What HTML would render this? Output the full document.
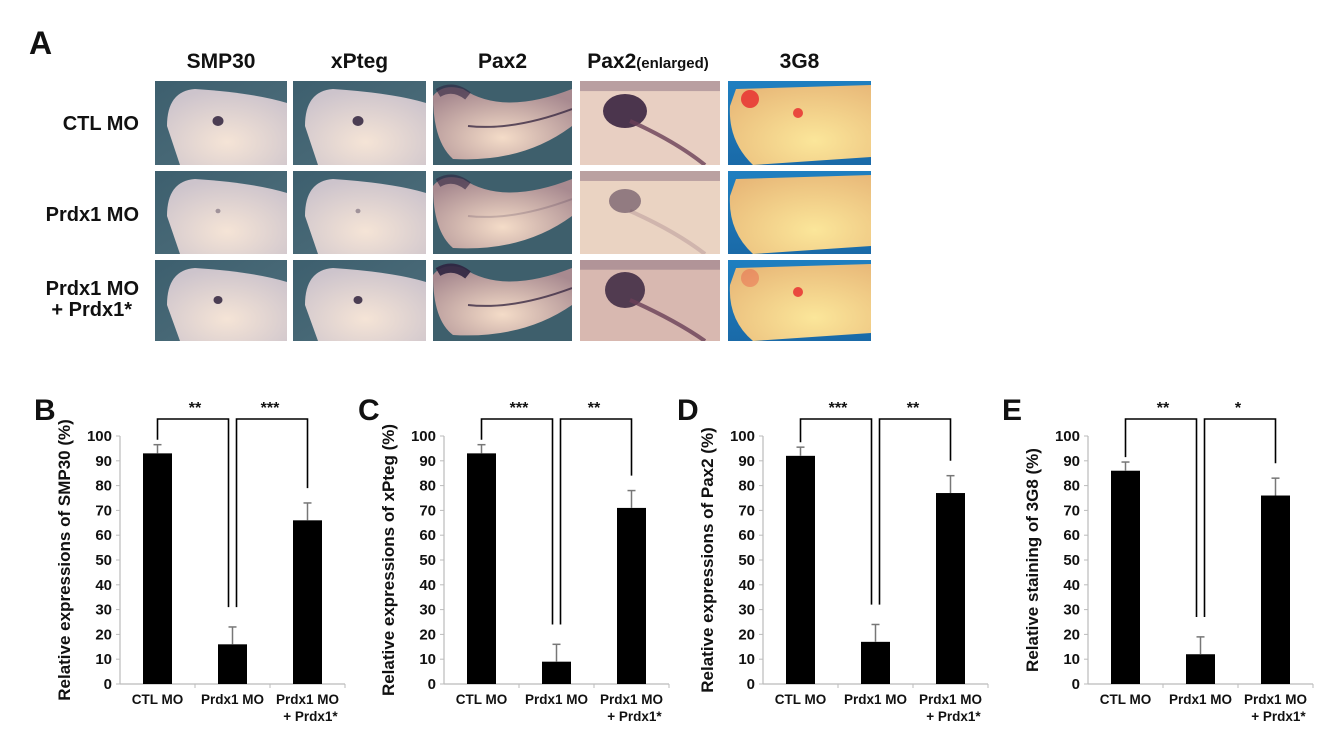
<!DOCTYPE html>
<html><head><meta charset="utf-8"><style>
body{margin:0;background:#fff;width:1340px;height:737px;overflow:hidden;font-family:"Liberation Sans",Arial,sans-serif}
svg{display:block}
text{font-family:"Liberation Sans",Arial,sans-serif;font-weight:bold;fill:#111}
</style></head><body>
<svg id="fig" width="1340" height="737" viewBox="0 0 1340 737">
<defs>
<linearGradient id="bgBlue" x1="0" y1="0" x2="1" y2="1"><stop offset="0" stop-color="#3d5f6e"/><stop offset="1" stop-color="#4f6f7c"/></linearGradient>
<radialGradient id="emb" cx="0.5" cy="0.7" r="0.7"><stop offset="0" stop-color="#f5e4d6"/><stop offset="1" stop-color="#cdc4cc"/></radialGradient>
<radialGradient id="embP" cx="0.5" cy="0.7" r="0.7"><stop offset="0" stop-color="#f4dcc8"/><stop offset="1" stop-color="#a88a90"/></radialGradient>
<radialGradient id="embO" cx="0.6" cy="0.7" r="0.8"><stop offset="0" stop-color="#fbe69a"/><stop offset="1" stop-color="#e8b878"/></radialGradient>
<linearGradient id="bgCyan" x1="0" y1="0" x2="0" y2="1"><stop offset="0" stop-color="#1f7fc0"/><stop offset="1" stop-color="#1a6aa8"/></linearGradient>
</defs>
<text x="29" y="54" font-size="32">A</text>
<g id="photos"></g>
<g id="charts"></g>
</svg>
<script>
const NS='http://www.w3.org/2000/svg';
function mk(tag,attrs,parent,txt){const e=document.createElementNS(NS,tag);for(const k in attrs)e.setAttribute(k,attrs[k]);if(txt!==undefined)e.textContent=txt;parent.appendChild(e);return e;}
// ---------- photo panel ----------
const colTitles=['SMP30','xPteg','Pax2','Pax2','3G8'];
const rowLabels=[['CTL MO'],['Prdx1 MO'],['Prdx1 MO','+ Prdx1*']];
const cols=[[155,287],[293,426],[433,572],[580,720],[728,871]];
const rows=[[81,165],[171,254],[260,341]];
const ph=document.getElementById('photos');
colTitles.forEach((t,i)=>{
  const cx=(cols[i][0]+cols[i][1])/2;
  const tt=mk('text',{x:cx,y:68,'font-size':21,'text-anchor':'middle'},ph);
  
  
  tt.textContent=t;
  if(i===3){tt.setAttribute('x',cx-2);mk('tspan',{'font-size':15},tt,'(enlarged)');}
});
const rowY=[[130],[221],[295,316]];
rowLabels.forEach((l,i)=>{
  l.forEach((s,j)=>{
    const t=mk('text',{x:j===1?132:139,y:rowY[i][j],'font-size':20,'text-anchor':'end'},ph,s);
    
    
  });
});
rows.forEach((r,ri)=>cols.forEach((c,ci)=>{
  const g=mk('g',{},ph);
  
  
  const x=c[0],y=r[0],w=c[1]-c[0],h=r[1]-r[0];
  const cp='cp'+ri+ci;const cl=mk('clipPath',{id:cp},g);mk('rect',{x,y,width:w,height:h},cl);
  const gg=mk('g',{'clip-path':'url(#'+cp+')'},g);
  if(ci<2){
    mk('rect',{x,y,width:w,height:h,fill:'url(#bgBlue)'},gg);
    mk('path',{d:`M${x+25},${y+h} L${x+12},${y+45} Q${x+12},${y+10} ${x+40},${y+8} Q${x+100},${y+12} ${x+w},${y+22} L${x+w},${y+h} Z`,fill:'url(#emb)'},gg);
    const dr=[5.5,2.5,4.5][ri];mk('ellipse',{cx:x+(ci?65:63),cy:y+40,rx:dr,ry:dr*0.9,fill:'#3a2c45',opacity:ri===1?0.4:0.9},gg);
  }else if(ci===2){
    mk('rect',{x,y,width:w,height:h,fill:'#3e5f6c'},gg);
    mk('path',{d:`M${x},${y+15} Q${x+10},${y+2} ${x+30},${y+8} Q${x+70},${y+35} ${x+w},${y+8} L${x+w},${y+45} Q${x+90},${y+h-2} ${x+20},${y+h-6} Q${x},${y+60} ${x},${y+15}Z`,fill:'url(#embP)'},gg);
    mk('path',{d:`M${x+5},${y+12} Q${x+20},${y+3} ${x+35},${y+15}`,stroke:'#2d2340','stroke-width':9,fill:'none',opacity:ri===2?0.9:0.6},gg);
    mk('path',{d:`M${x+35},${y+45} Q${x+80},${y+50} ${x+w},${y+28}`,stroke:'#3b2a44','stroke-width':2,fill:'none',opacity:ri===1?0.2:0.8},gg);
  }else if(ci===3){
    mk('rect',{x,y,width:w,height:h,fill:['#e8cfc2','#ead3c2','#d8b8b0'][ri]},gg);
    mk('rect',{x,y,width:w,height:h*0.12,fill:'#8a7080',opacity:0.5},gg);
    mk('ellipse',{cx:x+45,cy:y+30,rx:[22,16,20][ri],ry:[17,12,18][ri],fill:'#3a2440',opacity:[0.9,0.5,0.85][ri]},gg);
    mk('path',{d:`M${x+50},${y+40} Q${x+95},${y+60} ${x+125},${y+h}`,stroke:'#6a4058','stroke-width':4,fill:'none',opacity:ri===1?0.2:0.8},gg);
  }else{
    mk('rect',{x,y,width:w,height:h,fill:'url(#bgCyan)'},gg);
    mk('path',{d:`M${x+8},${y+8} L${x+w},${y+4} L${x+w},${y+h-8} L${x+25},${y+h} Q${x},${y+60} ${x+2},${y+25}Z`,fill:'url(#embO)'},gg);
    if(ri!==1){mk('circle',{cx:x+22,cy:y+18,r:9,fill:'#e83030',opacity:ri===0?0.85:0.3},gg);mk('circle',{cx:x+70,cy:y+32,r:5,fill:'#e83030',opacity:0.85},gg);}
  }
}));
// ---------- bar charts ----------
const categories=['CTL MO','Prdx1 MO','Prdx1 MO'];
const panelLetters=['B','C','D','E'];
const yTitles=['Relative expressions of SMP30 (%)','Relative expressions of xPteg (%)','Relative expressions of Pax2 (%)','Relative staining of 3G8 (%)'];
const valsB=[93,16,66];const errB=[3.5,7,7];
const valsC=[93,9,71];const errC=[3.5,7,7];
const valsD=[92,17,77];const errD=[3.5,7,7];
const valsE=[86,12,76];const errE=[3.5,7,7];
const sigLeft=['**','***','***','**'];
const sigRight=['***','**','**','*'];
const yTicks=[0,10,20,30,40,50,60,70,80,90,100];
const allVals=[valsB,valsC,valsD,valsE];
const allErr=[errB,errC,errD,errE];
const axisX=[120,444,763,1088];
const y0=684,pxPer=2.48,catW=75,barW=29;
function yS(v){return y0-v*pxPer;}
const ch=document.getElementById('charts');
allVals.forEach((vals,p)=>{
  const ax=axisX[p];
  const g=mk('g',{},ch);
  
  
  const L=mk('text',{x:ax-86,y:420,'font-size':30},g,panelLetters[p]);
  
  
  const yt=mk('text',{transform:`translate(${ax-50},${yS(50)}) rotate(-90)`,'font-size':17,'text-anchor':'middle'},g,yTitles[p]);
  yt.setAttribute('font-weight','normal');
  
  
  mk('line',{x1:ax,y1:yS(100),x2:ax,y2:y0,stroke:'#bbb','stroke-width':1.2},g);
  mk('line',{x1:ax,y1:y0,x2:ax+3*catW,y2:y0,stroke:'#bbb','stroke-width':1.2},g);
  for(let i=1;i<=3;i++)mk('line',{x1:ax+i*catW,y1:y0,x2:ax+i*catW,y2:y0+4,stroke:'#bbb'},g);
  yTicks.forEach(t=>{
    mk('line',{x1:ax-4,y1:yS(t),x2:ax,y2:yS(t),stroke:'#bbb'},g);
    const tl=mk('text',{x:ax-8,y:yS(t)+5,'font-size':15,'text-anchor':'end'},g,t);
    
    
  });
  const cx=vals.map((v,i)=>ax+catW*(i+0.5));
  vals.forEach((v,i)=>{
    const b=mk('rect',{x:cx[i]-barW/2,y:yS(v),width:barW,height:y0-yS(v),fill:'#000'},g);
    
    
    const e=allErr[p][i];
    mk('line',{x1:cx[i],y1:yS(v),x2:cx[i],y2:yS(v+e),stroke:'#777','stroke-width':1.5},g);
    mk('line',{x1:cx[i]-4,y1:yS(v+e),x2:cx[i]+4,y2:yS(v+e),stroke:'#777','stroke-width':1.5},g);
    const xl=mk('text',{x:cx[i],y:704,'font-size':13.5,'text-anchor':'middle'},g,categories[i]);
    
    
    if(i===2){const x2=mk('text',{x:cx[i]+3,y:721,'font-size':13.5,'text-anchor':'middle'},g,'+ Prdx1*');
      
      }
  });
  const by=419,mid=yS(vals[1]+allErr[p][1]+8);
  mk('path',{d:`M${cx[0]},${yS(vals[0]+allErr[p][0]+2)} V${by} H${cx[1]-4} V${mid}`,stroke:'#000','stroke-width':1.6,fill:'none'},g);
  mk('path',{d:`M${cx[1]+4},${mid} V${by} H${cx[2]} V${yS(vals[2]+allErr[p][2]+6)}`,stroke:'#000','stroke-width':1.6,fill:'none'},g);
  const s1=mk('text',{x:(cx[0]+cx[1])/2,y:413,'font-size':16,'text-anchor':'middle'},g,sigLeft[p]);
  
  
  const s2=mk('text',{x:(cx[1]+cx[2])/2,y:413,'font-size':16,'text-anchor':'middle'},g,sigRight[p]);
  
  
});
</script>
</body></html>
